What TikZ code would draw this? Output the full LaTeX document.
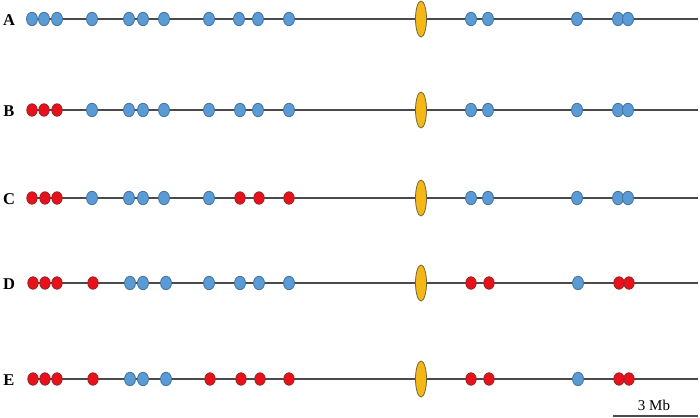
\documentclass[tikz,border=0pt]{standalone}
\usepackage{fontspec}
\setmainfont{Liberation Serif}
\definecolor{bluefill}{HTML}{5B9BD5}
\definecolor{blueline}{HTML}{41719C}
\definecolor{redfill}{HTML}{E8111B}
\definecolor{redline}{HTML}{8B2A2A}
\definecolor{yelfill}{HTML}{F5B716}
\definecolor{yelline}{HTML}{6B6A3A}
\definecolor{chrom}{HTML}{4A4A4A}
\tikzset{
  dotblue/.style={ellipse,draw=blueline,fill=bluefill,line width=0.8pt,minimum width=11pt,minimum height=13.5pt,inner sep=0pt},
  dotred/.style={ellipse,draw=redline,fill=redfill,line width=0.8pt,minimum width=10.5pt,minimum height=12.5pt,inner sep=0pt},
  centro/.style={ellipse,draw=yelline,fill=yelfill,line width=0.8pt,minimum width=11pt,minimum height=36pt,inner sep=0pt},
  chromline/.style={draw=chrom,line width=1.1pt},
  rowlabel/.style={font=\fontsize{16.5}{16.5}\selectfont\bfseries,inner sep=0pt},
}
\usetikzlibrary{shapes.geometric}
\begin{document}
\begin{tikzpicture}[x=1pt,y=-1pt]
\useasboundingbox (0,0) rectangle (700,417);
\foreach \r/\y/\dots in {
  A/19/{32/blue,44/blue,57/blue,92/blue,129/blue,143/blue,164/blue,209/blue,239/blue,258/blue,289/blue,471/blue,488/blue,577/blue,618/blue,628/blue},
  B/110/{32/red,44/red,57/red,92/blue,129/blue,143/blue,164/blue,209/blue,240/blue,258/blue,289/blue,471/blue,488/blue,577/blue,618/blue,628/blue},
  C/198/{32/red,45/red,57/red,92/blue,129/blue,143/blue,164/blue,209/blue,240/red,259/red,289/red,471/blue,488/blue,577/blue,618/blue,628/blue},
  D/283/{33/red,45/red,57/red,93/red,130/blue,143/blue,166/blue,209/blue,240/blue,259/blue,289/blue,471/red,489/red,578/blue,619/red,629/red},
  E/379/{33/red,45/red,57/red,93/red,130/blue,143/blue,166/blue,210/red,241/red,260/red,289/red,471/red,489/red,578/blue,619/red,629/red}} {
  \node[rowlabel] (L\r) at (9,\y+1) {\r};
  \coordinate (s\r) at (30,\y);
  \coordinate (e\r) at (698,\y);
  \draw[chromline] (s\r) -- (e\r);
  \node[centro] (cen\r) at (421,\y) {};
  \foreach \x/\c [count=\i] in \dots {
    \node[dot\c] (d\r\i) at (\x,\y) {};
  }
}
\coordinate (sb1) at (613,416);
\coordinate (sb2) at (698,416);
\draw[chromline] (sb1) -- (sb2);
\node[font=\fontsize{15}{15}\selectfont,inner sep=0pt] (sbl) at (654,405) {3 Mb};
\end{tikzpicture}
\end{document}
